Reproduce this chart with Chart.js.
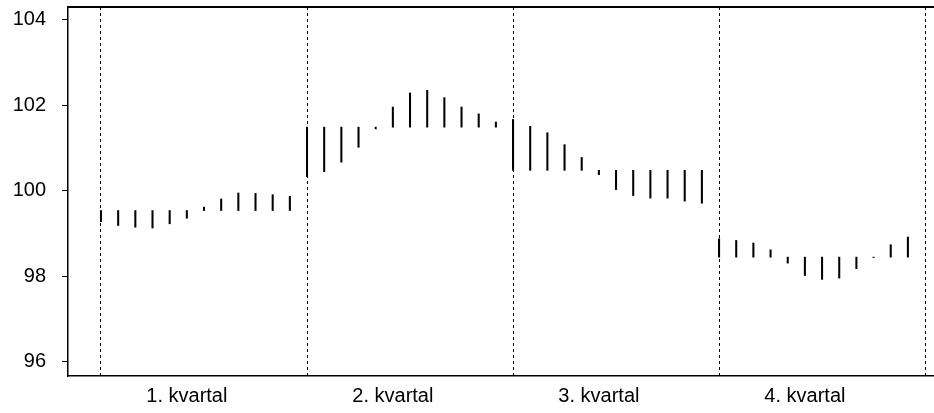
<!DOCTYPE html>
<html>
<head>
<meta charset="utf-8">
<script src="https://cdn.jsdelivr.net/npm/chart.js@4/dist/chart.umd.min.js"></script>
<style>
  html, body { margin: 0; padding: 0; background: #fff; overflow: hidden; }
  #wrap { width: 934px; height: 413px; position: relative; }
</style>
</head>
<body>
<div id="wrap"><canvas id="c"></canvas></div>
<script>
// Categories (quarters) and tick labels
const quarterLabels = ['1. kvartal', '2. kvartal', '3. kvartal', '4. kvartal'];
const yTicks = [96, 98, 100, 102, 104];

// Quarter means (base line of each sub-series)
const quarterBase = [99.54, 101.49, 100.48, 98.45];

// Yearly values per quarter (12 years each)
const q1 = [99.28, 99.19, 99.15, 99.13, 99.23, 99.36, 99.62, 99.81, 99.95, 99.94, 99.91, 99.87];
const q2 = [100.33, 100.45, 100.67, 101.02, 101.45, 101.96, 102.29, 102.35, 102.18, 101.96, 101.80, 101.61];
const q3 = [101.67, 101.51, 101.36, 101.08, 100.78, 100.38, 100.03, 99.89, 99.83, 99.83, 99.76, 99.71];
const q4 = [98.88, 98.84, 98.78, 98.62, 98.31, 98.02, 97.93, 97.96, 98.18, 98.44, 98.74, 98.92];

const quarterValues = [q1, q2, q3, q4];
const perQuarter = 12;

const segData = [];
quarterValues.forEach((vals, q) => {
  vals.forEach((v, j) => {
    segData.push({ x: q * perQuarter + j, y: [quarterBase[q], v] });
  });
});

const labelPos = quarterLabels.map((_, q) => q * perQuarter + 5);
const dividerPos = [0, 1, 2, 3, 4].map(q => q * perQuarter);

const FONT = { family: '"Liberation Sans", Arial, Helvetica, sans-serif', size: 20 };
const X_MIN = -1.922, X_MAX = 48.52;
const Y_MIN = 95.67, Y_MAX = 104.30;

const noPad = s => { s.paddingLeft = 0; s.paddingRight = 0; s.paddingTop = 0; s.paddingBottom = 0; };

// Top edge of the plot frame
const frameTop = {
  id: 'frameTop',
  afterDraw(chart) {
    const ctx = chart.ctx;
    const a = chart.chartArea;
    ctx.save();
    ctx.fillStyle = '#000';
    ctx.fillRect(a.left - 1, Math.round(a.top) - 1, a.right - a.left + 1, 2);
    ctx.restore();
  }
};

new Chart(document.getElementById('c'), {
  type: 'bar',
  plugins: [frameTop],
  data: {
    datasets: [{
      data: segData,
      backgroundColor: '#000',
      borderWidth: 0,
      barThickness: 1.4,
      xAxisID: 'x',
      yAxisID: 'y'
    }]
  },
  options: {
    responsive: true,
    maintainAspectRatio: false,
    animation: false,
    layout: { padding: { top: 7, left: 0, right: 0, bottom: 0 } },
    plugins: { legend: { display: false }, tooltip: { enabled: false } },
    scales: {
      x: {
        type: 'linear',
        position: 'bottom',
        min: X_MIN,
        max: X_MAX,
        offset: false,
        afterBuildTicks: s => { s.ticks = labelPos.map(v => ({ value: v })); },
        afterFit: s => { s.height = 37; noPad(s); },
        ticks: {
          callback: (v) => { const i = labelPos.indexOf(v); return i >= 0 ? quarterLabels[i] : ''; },
          color: '#000',
          font: FONT,
          padding: 8,
          maxRotation: 0,
          autoSkip: false
        },
        grid: { display: false, drawTicks: false, offset: false },
        border: { display: true, color: '#000', width: 1.5 }
      },
      xg: {
        type: 'linear',
        position: 'bottom',
        min: X_MIN,
        max: X_MAX,
        offset: false,
        afterBuildTicks: s => { s.ticks = dividerPos.map(v => ({ value: v })); },
        afterFit: s => { s.height = 0; noPad(s); },
        ticks: { display: false },
        grid: { display: true, offset: false, drawOnChartArea: true, drawTicks: false, color: '#000', lineWidth: 1 },
        border: { display: false, dash: [3, 3] }
      },
      y: {
        type: 'linear',
        position: 'left',
        min: Y_MIN,
        max: Y_MAX,
        afterBuildTicks: s => { s.ticks = yTicks.map(v => ({ value: v })); },
        afterFit: s => { s.width = 68; noPad(s); },
        ticks: {
          color: '#000',
          font: FONT,
          padding: 16,
          callback: v => String(v)
        },
        grid: { display: true, drawOnChartArea: false, drawTicks: true, tickLength: 6, tickColor: '#000', tickWidth: 1 },
        border: { display: true, color: '#000', width: 1.5 }
      }
    }
  }
});
</script>
</body>
</html>
